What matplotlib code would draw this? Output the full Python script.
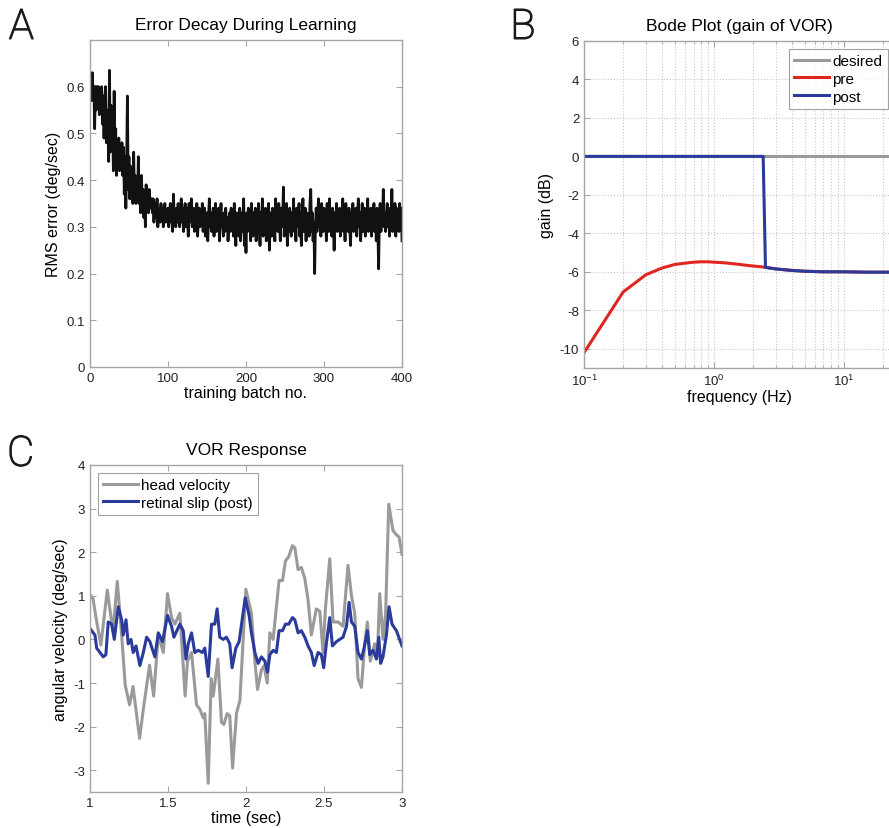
import numpy as np
import matplotlib
matplotlib.use("Agg")
import matplotlib.pyplot as plt
import matplotlib.patheffects as pe
from matplotlib.ticker import LogLocator, NullFormatter

plt.rcParams['font.family'] = ['Liberation Sans', 'DejaVu Sans']
plt.rcParams['mathtext.fontset'] = 'custom'
plt.rcParams['mathtext.rm'] = 'Liberation Sans'
plt.rcParams['axes.unicode_minus'] = False

# --- A: RMS error per training batch ---
rms_error = [
    0.59, 0.61, 0.57, 0.63, 0.58, 0.60, 0.51, 0.60, 0.55, 0.60, 0.57, 0.60, 0.54, 0.59, 0.56, 0.60, 0.52, 0.58, 0.49, 0.57,
    0.60, 0.48, 0.55, 0.52, 0.44, 0.635, 0.46, 0.56, 0.47, 0.53, 0.42, 0.59, 0.44, 0.51, 0.41, 0.47, 0.43, 0.49, 0.42, 0.46,
    0.43, 0.48, 0.41, 0.47, 0.37, 0.45, 0.34, 0.44, 0.58, 0.38, 0.45, 0.36, 0.43, 0.38, 0.42, 0.35, 0.46, 0.37, 0.41, 0.35,
    0.40, 0.36, 0.45, 0.35, 0.39, 0.33, 0.41, 0.35, 0.38, 0.32, 0.37, 0.30, 0.39, 0.34, 0.36, 0.33, 0.38, 0.35, 0.34, 0.36,
    0.33, 0.36, 0.31, 0.35, 0.34, 0.32, 0.36, 0.30, 0.34, 0.33, 0.31, 0.35, 0.32, 0.34, 0.30, 0.33, 0.35, 0.31, 0.33, 0.32,
    0.34, 0.30, 0.33, 0.35, 0.31, 0.34, 0.29, 0.37, 0.32, 0.33, 0.30, 0.34, 0.31, 0.35, 0.32, 0.30, 0.33, 0.36, 0.31, 0.34,
    0.29, 0.33, 0.35, 0.30, 0.34, 0.32, 0.28, 0.35, 0.31, 0.33, 0.36, 0.30, 0.32, 0.34, 0.29, 0.33, 0.31, 0.35, 0.28, 0.32,
    0.34, 0.30, 0.33, 0.31, 0.35, 0.29, 0.32, 0.34, 0.28, 0.31, 0.33, 0.27, 0.32, 0.36, 0.30, 0.33, 0.29, 0.31, 0.34, 0.28,
    0.32, 0.35, 0.29, 0.33, 0.30, 0.34, 0.27, 0.32, 0.35, 0.30, 0.31, 0.28, 0.33, 0.29, 0.34, 0.30, 0.32, 0.27, 0.31, 0.33,
    0.29, 0.34, 0.30, 0.32, 0.28, 0.35, 0.31, 0.26, 0.33, 0.30, 0.32, 0.28, 0.34, 0.27, 0.31, 0.33, 0.29, 0.36, 0.26, 0.32,
    0.245, 0.33, 0.29, 0.34, 0.30, 0.32, 0.27, 0.35, 0.31, 0.28, 0.33, 0.30, 0.34, 0.27, 0.32, 0.29, 0.35, 0.30, 0.26, 0.33,
    0.31, 0.36, 0.28, 0.33, 0.30, 0.34, 0.27, 0.32, 0.29, 0.35, 0.25, 0.31, 0.33, 0.28, 0.34, 0.30, 0.32, 0.27, 0.36, 0.30,
    0.33, 0.29, 0.35, 0.31, 0.27, 0.34, 0.30, 0.32, 0.385, 0.28, 0.33, 0.30, 0.35, 0.26, 0.32, 0.29, 0.34, 0.31, 0.28, 0.33,
    0.30, 0.36, 0.29, 0.32, 0.27, 0.34, 0.31, 0.30, 0.35, 0.28, 0.33, 0.26, 0.32, 0.36, 0.29, 0.31, 0.34, 0.27, 0.33, 0.30,
    0.32, 0.28, 0.35, 0.38, 0.29, 0.33, 0.27, 0.31, 0.20, 0.30, 0.34, 0.29, 0.33, 0.36, 0.30, 0.32, 0.28, 0.35, 0.31, 0.29,
    0.34, 0.30, 0.33, 0.27, 0.35, 0.31, 0.29, 0.36, 0.30, 0.32, 0.28, 0.34, 0.31, 0.25, 0.33, 0.30, 0.35, 0.29, 0.32, 0.31,
    0.34, 0.28, 0.33, 0.30, 0.36, 0.29, 0.32, 0.27, 0.35, 0.31, 0.33, 0.29, 0.34, 0.30, 0.26, 0.33, 0.31, 0.35, 0.29, 0.32,
    0.30, 0.34, 0.28, 0.32, 0.36, 0.30, 0.33, 0.27, 0.32, 0.35, 0.29, 0.31, 0.34, 0.28, 0.33, 0.30, 0.36, 0.29, 0.32, 0.31,
    0.34, 0.28, 0.33, 0.30, 0.35, 0.29, 0.32, 0.27, 0.34, 0.30, 0.21, 0.32, 0.35, 0.29, 0.33, 0.31, 0.38, 0.30, 0.33, 0.29,
    0.32, 0.35, 0.30, 0.34, 0.28, 0.33, 0.31, 0.38, 0.29, 0.33, 0.30, 0.35, 0.28, 0.34, 0.31, 0.33, 0.29, 0.35, 0.30, 0.34, 0.27,
]
batch_no = np.arange(len(rms_error))

# --- B: Bode gain ---
freq_hz = [0.1, 0.2, 0.3, 0.4, 0.5, 0.6, 0.7, 0.8, 0.9, 1.0, 1.2, 1.5, 2.0, 2.4,
           2.5, 3.0, 4.0, 5.0, 7.0, 10.0, 15.0, 20.0, 25.0]
gain_desired = [0.0] * len(freq_hz)
gain_pre = [-10.2, -7.05, -6.15, -5.8, -5.62, -5.55, -5.5, -5.48, -5.48, -5.5, -5.53, -5.6, -5.7, -5.75,
            -5.77, -5.85, -5.93, -5.97, -6.0, -6.0, -6.02, -6.02, -6.02]
gain_post = [0.0, 0.0, 0.0, 0.0, 0.0, 0.0, 0.0, 0.0, 0.0, 0.0, 0.0, 0.0, 0.0, 0.0,
             -5.77, -5.85, -5.93, -5.97, -6.0, -6.0, -6.02, -6.02, -6.02]

# --- C: VOR response ---
t_head = [1.000, 1.019, 1.041, 1.070, 1.111, 1.147, 1.175, 1.200, 1.213, 1.226, 1.254, 1.276,
          1.318, 1.342, 1.382, 1.408, 1.438, 1.470, 1.497, 1.523, 1.544, 1.576, 1.610, 1.625,
          1.651, 1.683, 1.704, 1.726, 1.736, 1.758, 1.777, 1.790, 1.820, 1.843, 1.858, 1.879,
          1.896, 1.914, 1.939, 1.961, 1.982, 1.999, 2.035, 2.057, 2.074, 2.099, 2.116, 2.136,
          2.153, 2.174, 2.212, 2.234, 2.253, 2.274, 2.298, 2.313, 2.334, 2.355, 2.377, 2.398,
          2.419, 2.451, 2.473, 2.494, 2.509, 2.537, 2.558, 2.590, 2.622, 2.654, 2.676, 2.697,
          2.718, 2.740, 2.761, 2.778, 2.797, 2.825, 2.842, 2.857, 2.878, 2.895, 2.915, 2.942,
          2.964, 2.981, 3.000]
head_vel = [1.03, 0.94, 0.45, -0.13, 1.13, 0.18, 1.33, 0.25, -0.4, -1.05, -1.5, -1.08,
            -2.27, -1.6, -0.59, -1.3, 0.1, -0.3, 1.05, 0.5, 0.35, 0.6, -1.3, -0.5,
            -0.3, -1.5, -1.6, -1.8, -1.7, -3.3, -0.9, -1.3, -0.45, -1.9, -1.95, -1.7,
            -1.75, -2.95, -1.7, -1.4, 0.0, 1.15, 0.6, -0.5, -1.15, -0.7, -0.6, -1.0,
            0.15, 0.0, 1.35, 1.35, 1.8, 1.9, 2.15, 2.1, 1.6, 1.65, 1.4, 0.9,
            0.1, 0.7, 0.65, -0.3, 0.7, 1.85, 0.4, 0.4, 0.3, 1.7, 1.0, 0.6,
            -0.9, -1.1, -0.1, 0.4, -0.5, -0.1, -0.4, 1.05, 0.0, 0.6, 3.1, 2.5,
            2.4, 2.35, 1.95]

t_slip = [1.000, 1.032, 1.043, 1.064, 1.085, 1.102, 1.117, 1.139, 1.156, 1.181, 1.203, 1.213,
          1.231, 1.245, 1.263, 1.277, 1.295, 1.320, 1.342, 1.363, 1.384, 1.416, 1.438, 1.465,
          1.497, 1.523, 1.538, 1.576, 1.598, 1.615, 1.630, 1.651, 1.672, 1.694, 1.721, 1.736,
          1.758, 1.779, 1.800, 1.815, 1.832, 1.854, 1.875, 1.896, 1.911, 1.935, 1.956, 1.995,
          2.020, 2.035, 2.057, 2.078, 2.099, 2.121, 2.138, 2.153, 2.174, 2.195, 2.212, 2.234,
          2.253, 2.274, 2.298, 2.313, 2.334, 2.355, 2.377, 2.398, 2.419, 2.437, 2.462, 2.483,
          2.498, 2.515, 2.537, 2.554, 2.580, 2.601, 2.622, 2.644, 2.661, 2.676, 2.697, 2.718,
          2.740, 2.757, 2.778, 2.793, 2.814, 2.836, 2.851, 2.863, 2.878, 2.900, 2.917, 2.936,
          2.964, 3.000]
retinal_slip = [0.25, 0.1, -0.2, -0.3, -0.4, -0.35, 0.4, 0.35, 0.0, 0.75, 0.45, 0.1,
                0.45, -0.1, 0.0, -0.3, -0.15, -0.6, -0.3, 0.05, -0.05, -0.4, 0.15, -0.05,
                0.55, 0.3, 0.05, 0.35, 0.2, -0.45, -0.1, 0.15, -0.3, -0.25, -0.3, -0.2,
                -0.85, 0.35, 0.35, 0.7, 0.05, 0.0, 0.05, -0.1, -0.65, -0.2, -0.05, 0.95,
                0.55, 0.15, -0.3, -0.55, -0.4, -0.5, -0.75, -0.35, -0.25, -0.3, 0.2, 0.2,
                0.35, 0.35, 0.5, 0.45, 0.15, 0.2, 0.05, -0.15, -0.3, -0.6, -0.3, -0.35,
                -0.65, -0.1, 0.5, -0.15, -0.05, 0.0, 0.05, 0.3, 0.85, 0.4, 0.3, -0.3,
                -0.45, -0.2, 0.2, -0.35, -0.25, -0.45, 0.05, -0.55, -0.4, 0.1, 0.75, 0.35,
                0.2, -0.15]

GRAY = '#9a9a9a'
BLUE = '#2b3b9b'
RED = '#e0251f'
FRAME = '#a6a6a6'


def matlab_box(ax):
    for s in ax.spines.values():
        s.set_color(FRAME)
        s.set_linewidth(1.0)
    ax.tick_params(direction='in', top=True, right=True, color=FRAME,
                   labelsize=9.5, labelcolor='#222222', length=4)
    ax.tick_params(which='minor', direction='in', top=True, right=True, color=FRAME, length=2)


def boxed_legend(ax, loc):
    leg = ax.legend(loc=loc, fontsize=11, frameon=True, fancybox=False,
                    borderpad=0.35, handlelength=2.3, handletextpad=0.2, labelspacing=0.25,
                    borderaxespad=0.5)
    leg.get_frame().set_edgecolor('#8a8a8a')
    leg.get_frame().set_linewidth(0.8)
    return leg


fig = plt.figure(figsize=(8.89, 8.29), dpi=100)

# A
ax1 = fig.add_axes([0.1012, 0.5561, 0.351, 0.3945])
ax1.plot(batch_no, rms_error, color='#111111', linewidth=2.0)
ax1.set_xlim(0, 400)
ax1.set_ylim(0, 0.7)
ax1.set_xticks([0, 100, 200, 300, 400])
ax1.set_yticks([0, 0.1, 0.2, 0.3, 0.4, 0.5, 0.6])
ax1.set_yticklabels(['0', '0.1', '0.2', '0.3', '0.4', '0.5', '0.6'])
ax1.set_title('Error Decay During Learning', fontsize=12.5, pad=8)
ax1.set_xlabel('training batch no.', fontsize=11.5, labelpad=1)
ax1.set_ylabel('RMS error (deg/sec)', fontsize=11.5, labelpad=4)
matlab_box(ax1)

# B
ax2 = fig.add_axes([0.657, 0.5549, 0.350, 0.3945])
ax2.semilogx(freq_hz, gain_desired, color=GRAY, linewidth=2.2, label='desired')
ax2.semilogx(freq_hz, gain_pre, color=RED, linewidth=2.2, label='pre')
ax2.semilogx(freq_hz, gain_post, color=BLUE, linewidth=2.2, label='post')
ax2.set_xlim(0.1, 25)
ax2.set_ylim(-11, 6)
ax2.set_yticks([-10, -8, -6, -4, -2, 0, 2, 4, 6])
ax2.xaxis.set_major_locator(LogLocator(base=10))
ax2.xaxis.set_minor_locator(LogLocator(base=10, subs=np.arange(2, 10)))
ax2.xaxis.set_minor_formatter(NullFormatter())
ax2.grid(True, which='major', color='#c8c8c8', linestyle=':', linewidth=0.8)
ax2.grid(True, which='minor', axis='x', color='#c8c8c8', linestyle=':', linewidth=0.8)
ax2.set_title('Bode Plot (gain of VOR)', fontsize=12.5, pad=8)
ax2.set_xlabel('frequency (Hz)', fontsize=11.5, labelpad=1)
ax2.set_ylabel('gain (dB)', fontsize=11.5, labelpad=4)
matlab_box(ax2)
boxed_legend(ax2, 'upper right')

# C
ax3 = fig.add_axes([0.1012, 0.0434, 0.351, 0.3945])
ax3.plot(t_head, head_vel, color=GRAY, linewidth=2.2, label='head velocity')
ax3.plot(t_slip, retinal_slip, color=BLUE, linewidth=2.2, label='retinal slip (post)')
ax3.set_xlim(1, 3)
ax3.set_ylim(-3.5, 4)
ax3.set_xticks([1, 1.5, 2, 2.5, 3])
ax3.set_xticklabels(['1', '1.5', '2', '2.5', '3'])
ax3.set_yticks([-3, -2, -1, 0, 1, 2, 3, 4])
ax3.set_title('VOR Response', fontsize=12.5, pad=8)
ax3.set_xlabel('time (sec)', fontsize=11.5, labelpad=1)
ax3.set_ylabel('angular velocity (deg/sec)', fontsize=11.5, labelpad=4)
matlab_box(ax3)
boxed_legend(ax3, 'upper left')

# panel letters: thin face, thickened slightly with a stroke
for x, y, s in [(0.010, 0.952, 'A'), (0.574, 0.952, 'B'), (0.008, 0.437, 'C')]:
    fig.text(x, y, s, fontsize=30, family=['Roboto', 'DejaVu Sans'], fontweight='light',
             color='#1a1a1a', va='baseline',
             path_effects=[pe.withStroke(linewidth=1.0, foreground='#1a1a1a')])

fig.savefig('out.png', dpi=100)
